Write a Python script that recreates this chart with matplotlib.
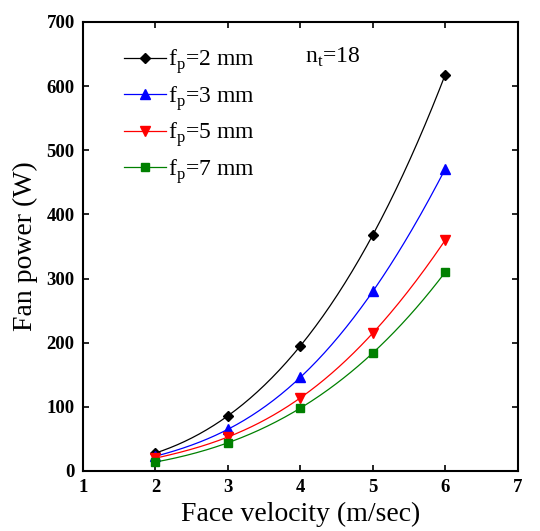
import numpy as np
import matplotlib
matplotlib.use("Agg")
import matplotlib.pyplot as plt

velocity = [2, 3, 4, 5, 6]
power_fp2 = [28, 86, 195, 368, 618]
power_fp3 = [23, 65, 146, 280, 471]
power_fp5 = [20, 53, 114, 215, 360]
power_fp7 = [14, 44, 98, 184, 310]
labels = ["f$_\\mathregular{p}$=2 mm", "f$_\\mathregular{p}$=3 mm",
          "f$_\\mathregular{p}$=5 mm", "f$_\\mathregular{p}$=7 mm"]
xticks = [1, 2, 3, 4, 5, 6, 7]
yticks = [0, 100, 200, 300, 400, 500, 600, 700]

plt.rcParams['font.family'] = ['Liberation Serif', 'DejaVu Serif']
plt.rcParams['mathtext.fontset'] = 'custom'
plt.rcParams['mathtext.rm'] = 'Liberation Serif'

fig = plt.figure(figsize=(5.4, 5.31), dpi=100)
ax = fig.add_axes([0.1537, 0.113, 0.805, 0.8456])

series = [power_fp2, power_fp3, power_fp5, power_fp7]
colors = ['black', '#0000ff', '#ff0000', '#008000']
markers = ['D', '^', 'v', 's']
msizes = [5, 7, 7, 6]

x = np.array(velocity, dtype=float)
xs = np.linspace(x.min(), x.max(), 200)
for vals, c, m, ms, lab in zip(series, colors, markers, msizes, labels):
    coef = np.polyfit(x, np.array(vals, dtype=float), len(x) - 1)
    ax.plot(xs, np.polyval(coef, xs), color=c, lw=0.9)
    ax.plot(x, vals, linestyle='none', marker=m, color=c, ms=ms)
    ax.plot([], [], color=c, lw=0.9, marker=m, ms=ms, label=lab)

ax.set_xlim(1, 7)
ax.set_ylim(0, 700)
ax.set_xticks(xticks)
ax.set_yticks(yticks)
ax.tick_params(direction='in', top=True, right=True, length=4, width=1.2,
               labelsize=13.5, pad=6)
for lbl in ax.get_xticklabels() + ax.get_yticklabels():
    lbl.set_fontweight('bold')
for sp in ax.spines.values():
    sp.set_linewidth(1.5)

ax.set_xlabel("Face velocity (m/sec)", fontsize=20, labelpad=4)
ax.set_ylabel("Fan power (W)", fontsize=20, labelpad=6)

ax.legend(loc='upper left', frameon=False, fontsize=17, handlelength=1.75,
          handletextpad=0.1, labelspacing=0.33, borderaxespad=0.3,
          bbox_to_anchor=(0.057, 0.98))
ax.text(4.06, 645, "n$_\\mathregular{t}$=18", fontsize=17, va='center', ha='left')

fig.savefig("out.png", dpi=100)
